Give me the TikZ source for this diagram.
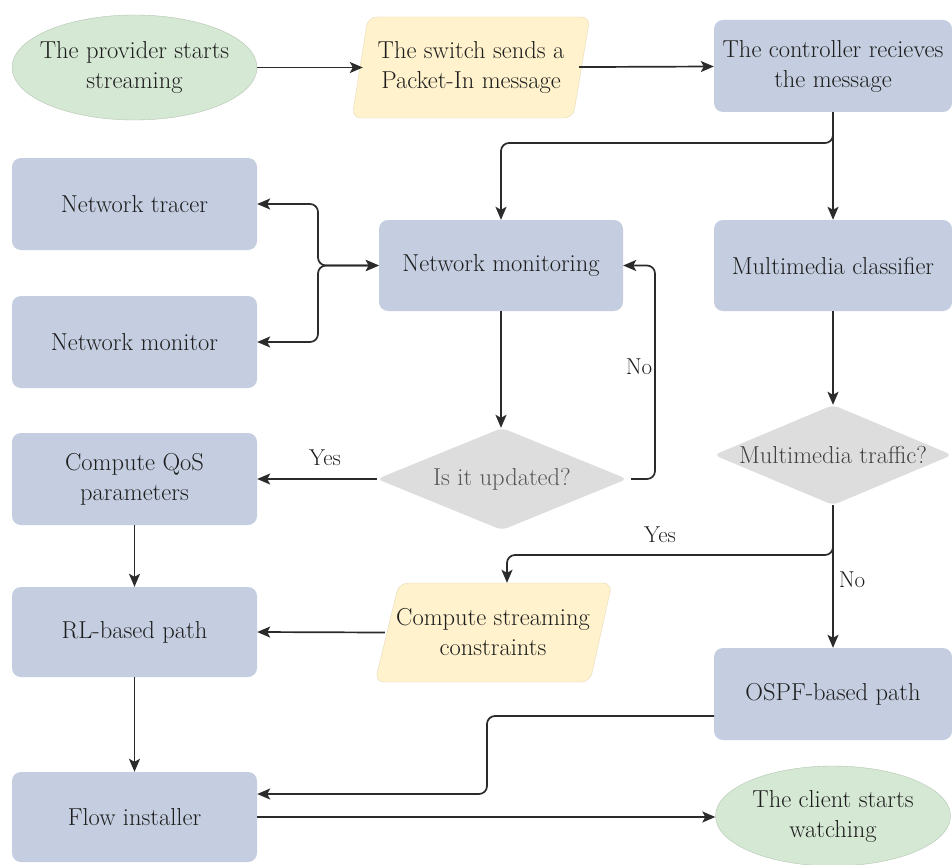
\documentclass[tikz,border=0pt]{standalone}
\usetikzlibrary{shapes.geometric,arrows.meta,calc}
\definecolor{bluebox}{HTML}{C4CEE0}
\definecolor{greenbox}{HTML}{D5E8D4}
\definecolor{yellowbox}{HTML}{FFF2CC}
\definecolor{greybox}{HTML}{DDDDDD}
\definecolor{linec}{HTML}{2B2B2B}
\definecolor{textc}{HTML}{1E1E1E}
\begin{document}
\begin{tikzpicture}[x=1pt,y=-1pt,
  every node/.style={font=\fontsize{24.5}{30}\selectfont, text=textc, align=center, inner sep=0pt},
  bbox/.style={rectangle, rounded corners=9pt, fill=bluebox, minimum width=245pt, minimum height=92pt},
  oval/.style={fill=greenbox, draw=greenbox!85!black, line width=0.4pt},
  para/.style={fill=yellowbox, draw=yellowbox!90!black, line width=0.4pt, rounded corners=9pt},
  dia/.style={fill=greybox, rounded corners=6pt},
  arr/.style={draw=linec, line width=1.7pt, rounded corners=8pt, -{Stealth[length=13pt,width=11pt,inset=3pt]}},
  arrb/.style={draw=linec, line width=1.7pt, rounded corners=8pt, {Stealth[length=13pt,width=11pt,inset=3pt]}-{Stealth[length=13pt,width=11pt,inset=3pt]}},
  lab/.style={font=\fontsize{23}{27}\selectfont, text=textc}]
\useasboundingbox (0,0) rectangle (952,864);
\fill[white] (0,0) rectangle (952,864);

% shapes drawn directly (ellipses, parallelograms, diamonds)
\path[oval] (134.5,67.5) ellipse [x radius=122.5, y radius=52.5];
\path[oval] (833,816) ellipse [x radius=117.5, y radius=50];
\path[para] (352,118) -- (368,17) -- (590,17) -- (573,118) -- cycle;
\path[para] (375,682) -- (399,583) -- (612,583) -- (590,682) -- cycle;
\path[dia] (377,479) -- (502,428) -- (627,479) -- (502,530) -- cycle;
\path[dia] (714,455) -- (833,405) -- (952,455) -- (833,505) -- cycle;

% nodes
\node[minimum width=245pt, minimum height=105pt] (provider) at (134.5,67.5) {The provider starts\\streaming};
\node[minimum width=216pt, minimum height=100pt] (switch) at (471,67.5) {The switch sends a\\Packet-In message};
\node[bbox, minimum width=238pt] (controller) at (833,66) {The controller recieves\\the message};
\node[bbox] (tracer) at (134.5,204) {Network tracer};
\node[bbox] (monitor) at (134.5,342) {Network monitor};
\node[bbox, minimum width=244pt, minimum height=91pt] (monitoring) at (501,265.5) {Network monitoring};
\node[bbox, minimum width=238pt, minimum height=91pt] (classifier) at (833,265.5) {Multimedia classifier};
\node[minimum width=250pt, minimum height=102pt, text=textc!75] (updated) at (502,479) {Is it updated?};
\node[minimum width=238pt, minimum height=100pt, text=textc!85] (traffic) at (833,455) {Multimedia traffic?};
\node[bbox] (qos) at (134.5,479) {Compute QoS\\parameters};
\node[bbox, minimum height=90pt] (rl) at (134.5,632) {RL-based path};
\node[minimum width=216pt, minimum height=99pt] (streaming) at (493,632.5) {Compute streaming\\constraints};
\node[bbox, minimum width=238pt] (ospf) at (833,694) {OSPF-based path};
\node[bbox, minimum height=90pt] (flow) at (134.5,817) {Flow installer};
\node[minimum width=235pt, minimum height=100pt] (client) at (833,816) {The client starts\\watching};

% junction coordinates
\coordinate (c1) at (833,143);
\coordinate (c2) at (501,143);
\coordinate (j1) at (318,204);
\coordinate (j2) at (318,342);
\coordinate (j0) at (318,265.5);
\coordinate (n1) at (655,479);
\coordinate (n2) at (655,265.5);
\coordinate (y1) at (833,555);
\coordinate (y2) at (507,555);
\coordinate (o1) at (714,716);
\coordinate (o2) at (487,716);
\coordinate (o3) at (487,794);

% connectors
\draw[arr] (provider) -- (switch);
\draw[arr] (switch) -- (controller);
\draw[arr] (controller.south) -- (c1) -- (c2) -- (monitoring.north);
\draw[arr] (controller) -- (classifier);
\draw[arrb] (tracer.east) -- (j1) -- (j0) -- (monitoring.west);
\draw[arrb] (monitor.east) -- (j2) -- (j0) -- (monitoring.west);
\draw[arr] (monitoring.south) -- (monitoring.south |- updated.north);
\draw[arr] ($(updated.east)+(4,0)$) -- (n1) -- (n2) -- (monitoring.east);
\node[lab] (nolab1) at (639,367) {No};
\draw[arr] (updated.west) -- (qos.east);
\node[lab] (yeslab1) at (325,458) {Yes};
\draw[arr] (qos) -- (rl);
\draw[arr] (classifier) -- (traffic);
\draw[arr] (traffic.south) -- (y1) -- (y2) -- (y2 |- streaming.north);
\node[lab] (yeslab2) at (660,535) {Yes};
\draw[arr] (traffic.south) -- (ospf.north);
\node[lab] (nolab2) at (852,580) {No};
\draw[arr] (streaming.west) -- (rl.east);
\draw[arr] (rl) -- (flow);
\draw[arr] (o1) -- (o2) -- (o3) -- (o3 -| flow.east);
\draw[arr] (flow.east) -- (flow.east -| client.west);
\end{tikzpicture}
\end{document}
